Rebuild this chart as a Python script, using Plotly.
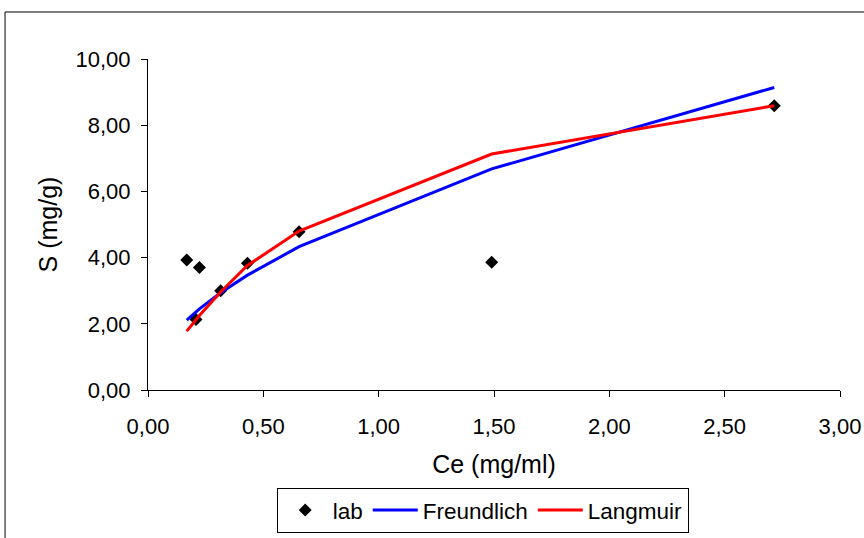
import plotly.graph_objects as go

# Equilibrium concentration Ce (mg/ml) and measured sorption S (mg/g)
lab_ce = [0.168, 0.223, 0.208, 0.315, 0.431, 0.655, 1.490, 2.715]
lab_s = [3.93, 3.70, 2.13, 3.00, 3.83, 4.78, 3.86, 8.59]

# Model curves evaluated at the sorted Ce values
model_ce = [0.168, 0.208, 0.223, 0.315, 0.431, 0.655, 1.490, 2.715]
freundlich_s = [2.11, 2.36, 2.45, 2.94, 3.47, 4.33, 6.68, 9.14]
langmuir_s = [1.78, 2.12, 2.25, 2.96, 3.76, 4.80, 7.13, 8.59]

x_ticks = [0.0, 0.5, 1.0, 1.5, 2.0, 2.5, 3.0]
y_ticks = [0.0, 2.0, 4.0, 6.0, 8.0, 10.0]

font_family = "Liberation Sans, Arial, sans-serif"

fig = go.Figure()
fig.add_trace(go.Scatter(
    x=lab_ce, y=lab_s, mode="markers", name="lab",
    marker=dict(symbol="diamond", size=10, color="black"),
))
fig.add_trace(go.Scatter(
    x=model_ce, y=freundlich_s, mode="lines", name="Freundlich",
    line=dict(color="#0000FF", width=3),
))
fig.add_trace(go.Scatter(
    x=model_ce, y=langmuir_s, mode="lines", name="Langmuir",
    line=dict(color="#FF0000", width=3),
))

axis_common = dict(
    showgrid=False, zeroline=False, showline=True, linecolor="black",
    linewidth=1, ticks="outside", ticklen=6, tickcolor="black",
    tickformat=".2f", tickfont=dict(size=22, color="black", family=font_family),
)

fig.update_layout(
    width=864, height=538,
    margin=dict(l=148, r=24, t=59, b=148, autoexpand=False),
    paper_bgcolor="white", plot_bgcolor="white",
    separators=",.",
    font=dict(family=font_family, color="black"),
    xaxis=dict(range=[0, 3], tickvals=x_ticks, ticklabelstandoff=11,
               title=dict(text="Ce (mg/ml)", font=dict(size=25), standoff=17),
               **axis_common),
    yaxis=dict(range=[0, 10], tickvals=y_ticks, ticklabelstandoff=6,
               title=dict(text="S (mg/g)", font=dict(size=25), standoff=10),
               **axis_common),
    showlegend=True,
    legend=dict(orientation="h", x=0.186, y=-0.296, xanchor="left", yanchor="top",
                bordercolor="black", borderwidth=1, bgcolor="white",
                font=dict(size=22.5, color="black"), itemwidth=45),
    shapes=[dict(type="rect", xref="paper", yref="paper",
                 x0=-0.2066, y0=-0.6, x1=1.2, y1=1.142,
                 line=dict(color="black", width=1), fillcolor="rgba(0,0,0,0)",
                 layer="below")],
)

fig.write_html("out.html")
